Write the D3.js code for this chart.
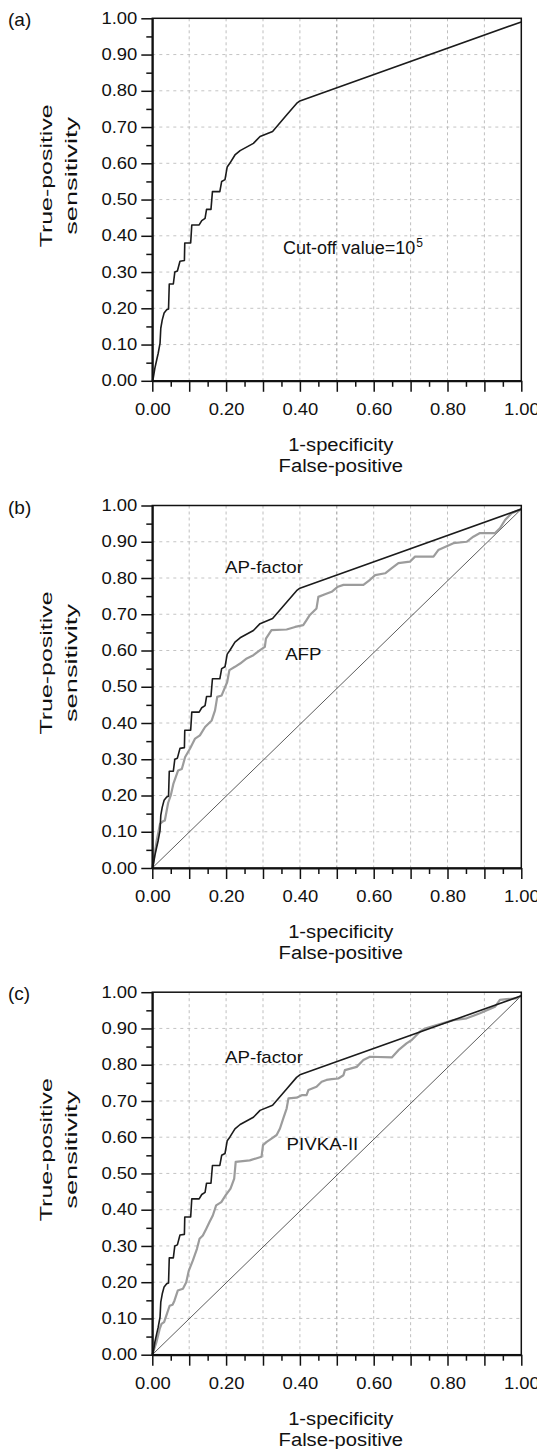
<!DOCTYPE html>
<html>
<head>
<meta charset="utf-8">
<script src="https://cdn.jsdelivr.net/npm/d3@7/dist/d3.min.js"></script>
<style>
  body { margin: 0; background: #fff; }
  svg { display: block; font-family: "Liberation Sans", Arial, Helvetica, sans-serif; }
</style>
</head>
<body>
<svg id="chart"></svg>
<script>
// ROC curves: 1-specificity (x) and sensitivity (y)
const apFpr = [0, 0.003, 0.007, 0.012, 0.016, 0.021, 0.023, 0.027, 0.032, 0.039, 0.044, 0.046, 0.057, 0.061, 0.068, 0.075, 0.087, 0.088, 0.104, 0.107, 0.127, 0.134, 0.143, 0.147, 0.159, 0.163, 0.183, 0.188, 0.197, 0.203, 0.21, 0.224, 0.238, 0.274, 0.292, 0.326, 0.364, 0.391, 0.4, 1.0];
const apTpr = [0, 0.01, 0.035, 0.058, 0.076, 0.104, 0.145, 0.168, 0.187, 0.196, 0.198, 0.267, 0.267, 0.3, 0.303, 0.33, 0.332, 0.38, 0.38, 0.43, 0.43, 0.442, 0.448, 0.473, 0.473, 0.522, 0.522, 0.55, 0.555, 0.59, 0.6, 0.623, 0.635, 0.655, 0.674, 0.688, 0.733, 0.765, 0.772, 0.99];

const afpFpr = [0, 0.005, 0.012, 0.021, 0.028, 0.034, 0.043, 0.05, 0.057, 0.07, 0.08, 0.089, 0.102, 0.116, 0.129, 0.143, 0.161, 0.17, 0.176, 0.188, 0.203, 0.209, 0.224, 0.238, 0.256, 0.274, 0.292, 0.305, 0.308, 0.323, 0.364, 0.387, 0.409, 0.418, 0.427, 0.445, 0.45, 0.468, 0.486, 0.503, 0.518, 0.572, 0.59, 0.604, 0.631, 0.649, 0.667, 0.698, 0.712, 0.762, 0.775, 0.816, 0.852, 0.87, 0.888, 0.929, 0.942, 0.956, 0.974, 1.0];
const afpTpr = [0, 0.03, 0.076, 0.122, 0.128, 0.131, 0.18, 0.2, 0.232, 0.269, 0.273, 0.306, 0.329, 0.357, 0.366, 0.389, 0.407, 0.435, 0.472, 0.476, 0.513, 0.546, 0.555, 0.564, 0.578, 0.587, 0.601, 0.61, 0.633, 0.656, 0.658, 0.665, 0.67, 0.684, 0.698, 0.716, 0.748, 0.755, 0.762, 0.776, 0.781, 0.781, 0.795, 0.808, 0.813, 0.827, 0.841, 0.845, 0.859, 0.859, 0.877, 0.896, 0.9, 0.914, 0.924, 0.924, 0.937, 0.96, 0.979, 0.99];

const pivkaFpr = [0, 0.011, 0.02, 0.025, 0.032, 0.038, 0.047, 0.055, 0.06, 0.069, 0.083, 0.092, 0.099, 0.11, 0.121, 0.128, 0.137, 0.146, 0.155, 0.164, 0.173, 0.187, 0.199, 0.212, 0.222, 0.226, 0.264, 0.296, 0.3, 0.31, 0.323, 0.337, 0.346, 0.355, 0.364, 0.369, 0.391, 0.405, 0.418, 0.423, 0.445, 0.459, 0.472, 0.486, 0.504, 0.518, 0.522, 0.554, 0.572, 0.59, 0.649, 0.667, 0.689, 0.703, 0.725, 0.739, 0.816, 0.852, 0.888, 0.929, 0.942, 0.96, 0.987, 1.0];
const pivkaTpr = [0, 0.034, 0.071, 0.085, 0.09, 0.108, 0.135, 0.138, 0.149, 0.177, 0.182, 0.2, 0.232, 0.26, 0.292, 0.32, 0.329, 0.347, 0.366, 0.384, 0.412, 0.421, 0.44, 0.458, 0.486, 0.532, 0.536, 0.546, 0.578, 0.587, 0.596, 0.606, 0.624, 0.652, 0.679, 0.707, 0.709, 0.716, 0.716, 0.73, 0.739, 0.753, 0.758, 0.76, 0.762, 0.771, 0.785, 0.794, 0.813, 0.822, 0.82, 0.84, 0.859, 0.868, 0.891, 0.9, 0.923, 0.928, 0.942, 0.96, 0.979, 0.981, 0.983, 0.99];

// chance line
const diagFpr = [0, 1.0];
const diagTpr = [0, 0.99];

const yTickValues = [0, 0.1, 0.2, 0.3, 0.4, 0.5, 0.6, 0.7, 0.8, 0.9, 1.0];
const xLabelValues = [0, 0.2, 0.4, 0.6, 0.8, 1.0];
const minorTickValues = [0.05, 0.15, 0.25, 0.35, 0.45, 0.55, 0.65, 0.75, 0.85, 0.95];
const gridValues = [0.1, 0.2, 0.3, 0.4, 0.5, 0.6, 0.7, 0.8, 0.9];

const width = 537;
const height = 1449;
const left = 152.3;
const plotW = 369;
const plotH = 362.5;

const svg = d3.select("#chart").attr("width", width).attr("height", height);

// stretch text horizontally, the scanned type is wider than Arial
const widen = (sel, k) => {
  sel.each(function () {
    const w = this.getComputedTextLength();
    d3.select(this).attr("textLength", w * k).attr("lengthAdjust", "spacingAndGlyphs");
  });
};

const zip = (xs, ys) => xs.map((d, i) => [d, ys[i]]);

const series = {
  ap: { points: zip(apFpr, apTpr), stroke: "#1b1b1b", width: 1.6 },
  afp: { points: zip(afpFpr, afpTpr), stroke: "#9c9c9c", width: 2.2 },
  pivka: { points: zip(pivkaFpr, pivkaTpr), stroke: "#9c9c9c", width: 2.2 },
  diag: { points: zip(diagFpr, diagTpr), stroke: "#4a4a4a", width: 0.9 },
};

const panels = [
  { top: 18.3, label: "(a)", lines: ["ap"], notes: [{ text: "Cut-off value=10", sup: "5", x: 0.354, y: 0.35, size: 18 }] },
  { top: 505.5, label: "(b)", lines: ["diag", "afp", "ap"], notes: [{ text: "AP-factor", x: 0.197, y: 0.814, size: 17 }, { text: "AFP", x: 0.36, y: 0.573, size: 17 }] },
  { top: 992.2, label: "(c)", lines: ["diag", "pivka", "ap"], notes: [{ text: "AP-factor", x: 0.197, y: 0.805, size: 17 }, { text: "PIVKA-II", x: 0.364, y: 0.564, size: 17 }] },
];

const x = d3.scaleLinear().domain([0, 1]).range([0, plotW]);
const y = d3.scaleLinear().domain([0, 1]).range([plotH, 0]);

const line = d3.line().x((d) => x(d[0])).y((d) => y(d[1]));

const drawPanel = (p) => {
  const g = svg.append("g").attr("transform", `translate(${left}, ${p.top})`);

  // Dotted grid
  g.selectAll(".vgrid")
    .data(gridValues)
    .enter()
    .append("line")
    .attr("x1", (d) => x(d))
    .attr("x2", (d) => x(d))
    .attr("y1", 0)
    .attr("y2", plotH)
    .style("stroke", (d) => (d === 0.5 ? "#8a8a8a" : "#b8b8b8"))
    .style("stroke-width", 0.9)
    .style("stroke-dasharray", "3,3");

  g.selectAll(".hgrid")
    .data(gridValues)
    .enter()
    .append("line")
    .attr("x1", 0)
    .attr("x2", plotW)
    .attr("y1", (d) => y(d))
    .attr("y2", (d) => y(d))
    .style("stroke", "#bdbdbd")
    .style("stroke-width", 0.9)
    .style("stroke-dasharray", "3,4");

  // Curves
  p.lines.forEach((key) => {
    const s = series[key];
    g.append("path")
      .datum(s.points)
      .attr("d", line)
      .style("fill", "none")
      .style("stroke", s.stroke)
      .style("stroke-width", s.width)
      .style("stroke-linejoin", "round");
  });

  // Box
  g.append("rect")
    .attr("width", plotW)
    .attr("height", plotH)
    .style("fill", "none")
    .style("stroke", "#111")
    .style("stroke-width", 1.5);

  // Axes: major ticks with labels, minor ticks without
  const yAxis = g
    .append("g")
    .call(d3.axisLeft(y).tickValues(yTickValues).tickFormat(d3.format(".2f")).tickSize(11).tickSizeOuter(0).tickPadding(4));
  g.append("g")
    .call(d3.axisLeft(y).tickValues(minorTickValues).tickFormat("").tickSize(6))
    .select(".domain")
    .remove();

  const xAxis = g
    .append("g")
    .attr("transform", `translate(0, ${plotH})`)
    .call(
      d3.axisBottom(x).tickValues(yTickValues).tickSize(11).tickSizeOuter(0).tickPadding(12)
        .tickFormat((d) => (xLabelValues.some((v) => Math.abs(v - d) < 1e-9) ? d3.format(".2f")(d) : ""))
    );
  g.append("g")
    .attr("transform", `translate(0, ${plotH})`)
    .call(d3.axisBottom(x).tickValues(minorTickValues).tickFormat("").tickSize(6))
    .select(".domain")
    .remove();

  g.selectAll(".domain").style("stroke", "#111").style("stroke-width", 2);
  g.selectAll(".tick line").style("stroke", "#111").style("stroke-width", 1.5);
  [yAxis, xAxis].forEach((a) => {
    a.attr("font-family", null).attr("font-size", null);
    const t = a.selectAll("text").style("font-size", "16px").style("fill", "#111");
    widen(t, 1.15);
  });

  // Axis titles
  const xt1 = g.append("text")
    .attr("x", x(0.5) + 4)
    .attr("y", plotH + 64)
    .attr("text-anchor", "middle")
    .attr("dominant-baseline", "central")
    .style("font-size", "18px")
    .style("fill", "#111")
    .text("1-specificity");
  const xt2 = g.append("text")
    .attr("x", x(0.5) + 4)
    .attr("y", plotH + 85)
    .attr("text-anchor", "middle")
    .attr("dominant-baseline", "central")
    .style("font-size", "18px")
    .style("fill", "#111")
    .text("False-positive");
  widen(xt1, 1.12);
  widen(xt2, 1.12);

  g.append("text")
    .attr("transform", `translate(${46 - left}, 157.5) rotate(-90)`)
    .attr("text-anchor", "middle")
    .attr("dominant-baseline", "central")
    .attr("textLength", 143)
    .attr("lengthAdjust", "spacingAndGlyphs")
    .style("font-size", "17px")
    .style("fill", "#111")
    .text("True-positive");
  g.append("text")
    .attr("transform", `translate(${71 - left}, 157.5) rotate(-90)`)
    .attr("text-anchor", "middle")
    .attr("dominant-baseline", "central")
    .attr("textLength", 118)
    .attr("lengthAdjust", "spacingAndGlyphs")
    .style("font-size", "17px")
    .style("fill", "#111")
    .text("sensitivity");

  // Panel letter
  g.append("text")
    .attr("x", 8 - left)
    .attr("y", 8)
    .style("font-size", "19px")
    .style("fill", "#111")
    .text(p.label);

  // Curve annotations
  p.notes.forEach((n) => {
    const t = g.append("text")
      .attr("x", x(n.x))
      .attr("y", y(n.y))
      .style("font-size", `${n.size}px`)
      .style("fill", "#111")
      .text(n.text);
    widen(t, n.sup ? 1.0 : 1.1);
    if (n.sup) {
      const w = t.node().getComputedTextLength();
      g.append("text")
        .attr("x", x(n.x) + w + 1)
        .attr("y", y(n.y) - 7)
        .style("font-size", "12px")
        .style("fill", "#111")
        .text(n.sup);
    }
  });
};

panels.forEach(drawPanel);
</script>
</body>
</html>
